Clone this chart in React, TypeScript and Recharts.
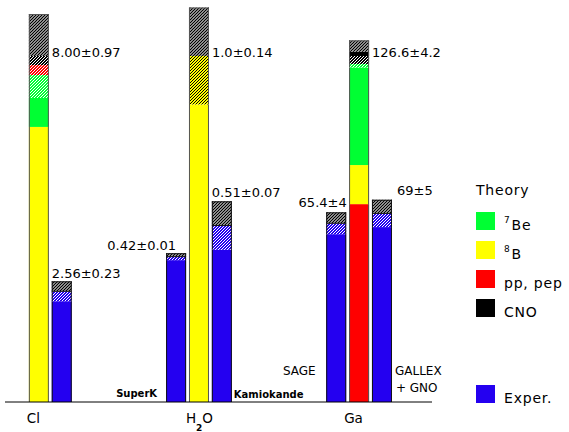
import React from 'react';
import { BarChart, Bar, XAxis, YAxis, LabelList, Legend } from 'recharts';

// predicted rate and its quoted error for each detector type (own units)
const groups = ['Cl', 'H2O', 'Ga'];
const theoryValue = [8.0, 1.0, 126.6];
const theoryError = [0.97, 0.14, 4.2];
const theoryDigits = [[2, 2], [1, 2], [1, 1]];

// contribution of each neutrino source to the prediction, same units
const ppFlux = [0.23, 0, 72.4];
const b8Flux = [6.36, 1.0, 14.3];
const be7Flux = [1.2, 0, 37.0];
const cnoFlux = [0.21, 0, 4.4];
// bottom-to-top order of the sources in each theory bar
const stackOrder = [
  ['b8', 'be7', 'pp', 'cno'],
  ['b8'],
  ['pp', 'b8', 'be7', 'cno'],
];

// measurements
const expNames = [[], ['SuperK'], ['Kamiokande'], ['SAGE'], ['GALLEX', '+ GNO']];
const expGroup = [0, 1, 1, 2, 2];
const expValue = [2.56, 0.42, 0.51, 65.4, 69];
const expError = [0.23, 0.01, 0.07, 4, 5];
const expDigits = [[2, 2], [2, 2], [2, 2], [1, 0], [0, 0]];

// slots along the category axis: T = theory bar, E = measurement, '' = empty
const slots = ['', 'T0', 'E0', '', '', '', '', 'E1', 'T1', 'E2', '', '', '', '', 'E3', 'T2', 'E4', ''];

const legendSources = [
  { key: 'be7', sup: '7', text: 'Be' },
  { key: 'b8', sup: '8', text: 'B' },
  { key: 'pp', sup: '', text: 'pp, pep' },
  { key: 'cno', sup: '', text: 'CNO' },
];

const COLOR: Record<string, string> = {
  pp: '#ff0000',
  b8: '#ffff00',
  be7: '#00ff33',
  cno: '#000000',
  exp: '#2400f0',
};
const HATCH_LINE: Record<string, string> = { pp: '#fff', b8: '#000', be7: '#fff', cno: '#fff', exp: '#fff' };
const ERR_FILL = 'url(#hatch-err)';
const hatch = (k: string) => `url(#hatch-${k})`;

const MAX_SEGS = 7;
const Y_MAX = 396 / 346; // axis top, in units of the predicted rate
const FONT = 'DejaVu Sans';

type Row = { [key: string]: any };

function makeRow(slot: string, i: number): Row {
  const row: Row = { slot: slot || `_${i}`, kind: slot ? slot[0] : '', idx: slot ? +slot.slice(1) : -1 };
  const segs: [number, string][] = [];
  const add = (v: number, fill: string) => {
    if (v > 1e-9) segs.push([v, fill]);
  };
  let norm = 1;
  if (row.kind === 'T') {
    const g = row.idx;
    const flux: Record<string, number> = { pp: ppFlux[g], b8: b8Flux[g], be7: be7Flux[g], cno: cnoFlux[g] };
    const lo = theoryValue[g] - theoryError[g];
    const hi = theoryValue[g];
    let base = 0;
    stackOrder[g].forEach((s) => {
      const top = base + flux[s];
      const a = Math.min(Math.max(lo, base), top);
      const b = Math.min(Math.max(hi, base), top);
      // inside the -1 sigma band the source is drawn hatched
      add(a - base, COLOR[s]);
      add(b - a, hatch(s));
      add(top - b, COLOR[s]);
      base = top;
    });
    add(theoryError[g], ERR_FILL);
    norm = theoryValue[g];
  } else if (row.kind === 'E') {
    const e = row.idx;
    add(expValue[e] - expError[e], COLOR.exp);
    add(expError[e], hatch('exp'));
    add(expError[e], ERR_FILL);
    norm = theoryValue[expGroup[e]];
  }
  let total = 0;
  row.fills = [];
  for (let k = 0; k < MAX_SEGS; k++) {
    const v = segs[k] ? segs[k][0] / norm : 0;
    row[`s${k}`] = v;
    row.fills.push(segs[k] ? segs[k][1] : 'none');
    total += v;
  }
  row.n = segs.length;
  row.total = total;
  return row;
}

const rows = slots.map(makeRow);
const rowBySlot: Record<string, Row> = Object.fromEntries(rows.map((r) => [r.slot, r]));

function Segment(props: any) {
  const { x, y, width, height, payload, k } = props;
  if (!payload || k >= payload.n || !(height > 0)) return null;
  const isTop = k === payload.n - 1;
  const edge = payload.kind === 'E' ? '#111' : '#555';
  const l = x + 0.5;
  const r = x + width - 0.5;
  return (
    <g>
      <rect x={x} y={y} width={width} height={height} fill={payload.fills[k]} />
      <line x1={l} x2={l} y1={y} y2={y + height} stroke={edge} />
      <line x1={r} x2={r} y1={y} y2={y + height} stroke={edge} />
      {isTop && <line x1={x} x2={x + width} y1={y + 0.5} y2={y + 0.5} stroke={edge} />}
      {isTop && payload.kind === 'E' && (
        <line x1={x} x2={x + width} y1={y + height} y2={y + height} stroke={edge} />
      )}
    </g>
  );
}

const fmt = (v: number, e: number, d: number[]) => `${v.toFixed(d[0])}±${e.toFixed(d[1])}`;

const textStyle = { fontFamily: FONT, fontSize: 13, fill: '#000' };

const valueLabel = (k: number) => (props: any) => {
  const { viewBox, value, index } = props;
  const row = rowBySlot[value] ?? rows[index];
  if (!row || row.n - 1 !== k || !viewBox) return null;
  const { x, y, width, height } = viewBox;
  if (row.kind === 'T') {
    const g = row.idx;
    const pxPer = height / row[`s${k}`];
    const valueY = y + (row.total - 1) * pxPer;
    return (
      <text x={x + width + 3} y={valueY + 1} {...textStyle}>
        {fmt(theoryValue[g], theoryError[g], theoryDigits[g])}
      </text>
    );
  }
  const e = row.idx;
  const label = fmt(expValue[e], expError[e], expDigits[e]);
  const place = [
    { x: x, anchor: 'start', dy: -3.5 },
    { x: x + width / 2, anchor: 'end', dy: -3 },
    { x: x, anchor: 'start', dy: -4 },
    { x: x + width + 0.5, anchor: 'end', dy: -5 },
    { x: x + width + 5, anchor: 'start', dy: -4.5 },
  ][e];
  return (
    <text x={place.x} y={y + place.dy} textAnchor={place.anchor} {...textStyle}>
      {label}
    </text>
  );
};

const nameLabel = (props: any) => {
  const { viewBox, value, index } = props;
  const row = rowBySlot[value] ?? rows[index];
  if (!row || row.kind !== 'E' || !viewBox) return null;
  const { x, y, width, height } = viewBox;
  const bottom = y + height;
  const e = row.idx;
  const lines = expNames[e];
  if (!lines.length) return null;
  if (e === 1) {
    return (
      <text x={x - 9} y={bottom - 5.5} textAnchor="end" fontFamily={FONT} fontSize={10} fontWeight="bold">
        {lines[0]}
      </text>
    );
  }
  if (e === 2) {
    return (
      <text x={x + width + 2} y={bottom - 4.5} fontFamily={FONT} fontSize={10} fontWeight="bold">
        {lines[0]}
      </text>
    );
  }
  if (e === 3) {
    return (
      <text x={x - 10.5} y={bottom - 27.5} textAnchor="end" fontFamily={FONT} fontSize={12}>
        {lines[0]}
      </text>
    );
  }
  return (
    <g fontFamily={FONT} fontSize={12}>
      <text x={x + width + 3} y={bottom - 27.5}>{lines[0]}</text>
      <text x={x + width + 4} y={bottom - 10.5}>{lines[1]}</text>
    </g>
  );
};

function SlotTick(props: any) {
  const { x, y, payload } = props;
  const row = rowBySlot[payload?.value];
  if (!row || row.kind !== 'T') return null;
  const name = groups[row.idx];
  const base = y + 13;
  if (name === 'H2O') {
    return (
      <text x={x} y={base} textAnchor="middle" fontFamily={FONT} fontSize={13.5}>
        H
        <tspan fontSize={9} fontWeight="bold" dy={8}>2</tspan>
        <tspan dy={-8}>O</tspan>
      </text>
    );
  }
  return (
    <text x={x - 6} y={base} textAnchor="middle" fontFamily={FONT} fontSize={13.5}>
      {name}
    </text>
  );
}

function LegendRow({ top, color, sup, text }: { top: number; color: string; sup?: string; text: string }) {
  return (
    <div style={{ position: 'absolute', left: 0, top, width: 93, height: 18 }}>
      <div style={{ position: 'absolute', left: 0, top: 0, width: 19, height: 18, background: color }} />
      <div style={{ position: 'absolute', left: 28, top: 4, lineHeight: '18px', whiteSpace: 'nowrap' }}>
        {sup ? <span style={{ fontSize: 9, position: 'relative', top: -7, marginRight: 1 }}>{sup}</span> : null}
        {text}
      </div>
    </div>
  );
}

function LegendBox() {
  return (
    <div
      style={{
        position: 'relative',
        width: 93,
        height: 240,
        fontFamily: FONT,
        fontSize: 14,
        letterSpacing: 0.8,
        color: '#000',
      }}
    >
      <div style={{ position: 'absolute', left: 0, top: 2, lineHeight: '16px' }}>Theory</div>
      {legendSources.map((s, i) => (
        <LegendRow key={s.key} top={32 + 29 * i} color={COLOR[s.key]} sup={s.sup} text={s.text} />
      ))}
      <LegendRow top={205} color={COLOR.exp} text="Exper." />
    </div>
  );
}

function HatchDefs() {
  const tile = (id: string, bg: string, line: string, w: number) => (
    <pattern key={id} id={id} patternUnits="userSpaceOnUse" width={3} height={3}>
      <rect width={3} height={3} fill={bg} />
      <path d="M-1,1 L1,-1 M0,3 L3,0 M2,4 L4,2" stroke={line} strokeWidth={w} />
    </pattern>
  );
  return (
    <svg width={0} height={0} style={{ position: 'absolute' }}>
      <defs>
        {tile('hatch-err', '#ffffff', '#000000', 1.3)}
        {Object.keys(COLOR).map((k) => tile(`hatch-${k}`, COLOR[k], HATCH_LINE[k], 1))}
      </defs>
    </svg>
  );
}

export default function App() {
  return (
    <div style={{ position: 'absolute', left: 0, top: 0, width: 569, height: 432, background: '#fff' }}>
      <HatchDefs />
      <BarChart
        width={569}
        height={432}
        data={rows}
        margin={{ top: 6, right: 137, bottom: 0, left: 5 }}
        barSize={20}
      >
        <XAxis
          dataKey="slot"
          interval={0}
          height={30}
          tickLine={false}
          axisLine={{ stroke: '#000', strokeWidth: 1 }}
          padding={{ left: 0, right: 15.3 }}
          tick={(p: any) => <SlotTick {...p} />}
        />
        <YAxis hide domain={[0, Y_MAX]} allowDataOverflow />
        <Legend
          layout="horizontal"
          verticalAlign="middle"
          align="center"
          content={() => <LegendBox />}
          wrapperStyle={{ left: 476, top: 180, width: 93, height: 240 }}
        />
        {Array.from({ length: MAX_SEGS }, (_, k) => (
          <Bar
            key={k}
            dataKey={`s${k}`}
            stackId="a"
            isAnimationActive={false}
            shape={(p: any) => <Segment {...p} k={k} />}
          >
            <LabelList dataKey="slot" content={valueLabel(k)} />
            {k === 0 && <LabelList dataKey="slot" content={nameLabel} />}
          </Bar>
        ))}
      </BarChart>
    </div>
  );
}
